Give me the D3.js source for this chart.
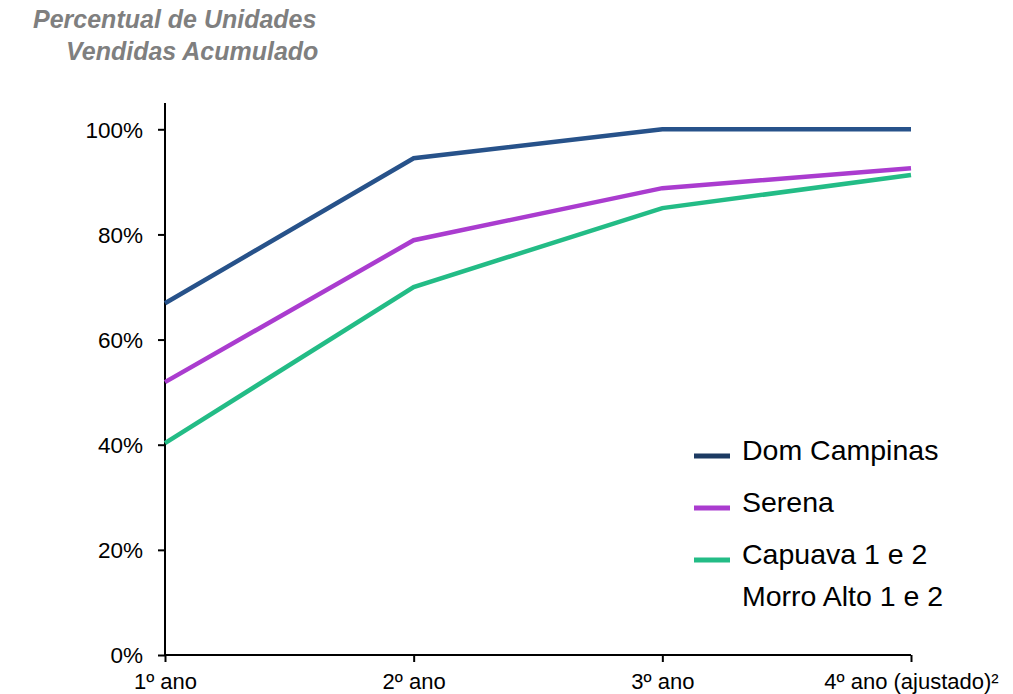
<!DOCTYPE html>
<html><head><meta charset="utf-8">
<script src="https://cdn.jsdelivr.net/npm/d3@7"></script>
<style>body{margin:0;background:#fff;} text{font-family:"Liberation Sans",Arial,sans-serif;}</style>
</head><body>
<svg id="c" width="1013" height="694"></svg>
<script>
const categories = ["1º ano", "2º ano", "3º ano", "4º ano (ajustado)²"];
const domCampinas = [0.669, 0.945, 1.0, 1.0];
const serena = [0.519, 0.789, 0.888, 0.926];
const capuava = [0.403, 0.70, 0.85, 0.913];
const yTicks = [0, 0.2, 0.4, 0.6, 0.8, 1.0];
const seriesNames = ["Dom Campinas", "Serena", "Capuava 1 e 2"];
const legendExtra = "Morro Alto 1 e 2";
const lineColors = ["#27528a", "#aa3ccf", "#23bc86"];
const swatchColors = ["#1c3a62", "#aa3ccf", "#23bc86"];

const svg = d3.select("#c");
const x = d3.scalePoint().domain(categories).range([165, 911]);
const y = d3.scaleLinear().domain([0, 1.05]).range([655, 103]);

// title
const tf = 25;
svg.append("text").attr("x", 33).attr("y", 28).text("Percentual de Unidades")
  .attr("font-size", tf).attr("font-weight", "bold").attr("font-style", "italic").attr("fill", "#7f7f7f");
svg.append("text").attr("x", 66).attr("y", 60).text("Vendidas Acumulado")
  .attr("font-size", tf).attr("font-weight", "bold").attr("font-style", "italic").attr("fill", "#7f7f7f");

// y axis
const yAxis = svg.append("g").attr("transform", "translate(165,0)")
  .call(d3.axisLeft(y).tickValues(yTicks).tickFormat(d3.format(".0%")).tickSize(7).tickPadding(15));
yAxis.select(".domain").attr("stroke", "#000").attr("stroke-width", 2).attr("d", `M0,${y(1.05)}V${y(0)}`);
yAxis.selectAll(".tick line").attr("stroke", "#000").attr("stroke-width", 2);
yAxis.selectAll(".tick text").attr("font-size", 22.5).attr("fill", "#000").attr("font-family", "Liberation Sans, Arial, sans-serif").attr("dy", "0.35em");

// x axis
const xAxis = svg.append("g").attr("transform", "translate(0,655)")
  .call(d3.axisBottom(x).tickSize(7).tickPadding(11));
xAxis.select(".domain").attr("stroke", "#000").attr("stroke-width", 2).attr("d", `M165,0H911`);
xAxis.selectAll(".tick line").attr("stroke", "#000").attr("stroke-width", 2);
xAxis.selectAll(".tick text").attr("font-size", 22).attr("fill", "#000").attr("font-family", "Liberation Sans, Arial, sans-serif");

const line = d3.line().x((d, i) => x(categories[i])).y(d => y(d));
[domCampinas, serena, capuava].forEach((s, i) => {
  svg.append("path").datum(s).attr("d", line).attr("fill", "none")
    .attr("stroke", lineColors[i]).attr("stroke-width", 4.5).attr("stroke-linejoin", "miter");
});

// legend
const lg = svg.append("g");
const ly = [456, 508, 560];
const lf = 28.5;
seriesNames.forEach((n, i) => {
  lg.append("rect").attr("x", 694).attr("y", ly[i] - 2.5).attr("width", 36).attr("height", 5).attr("fill", swatchColors[i]);
  lg.append("text").attr("x", 742).attr("y", ly[i] + 4).attr("font-size", lf).attr("fill", "#000").text(n);
});
lg.append("text").attr("x", 742).attr("y", 606).attr("font-size", lf).attr("fill", "#000").text(legendExtra);
</script>
</body></html>
